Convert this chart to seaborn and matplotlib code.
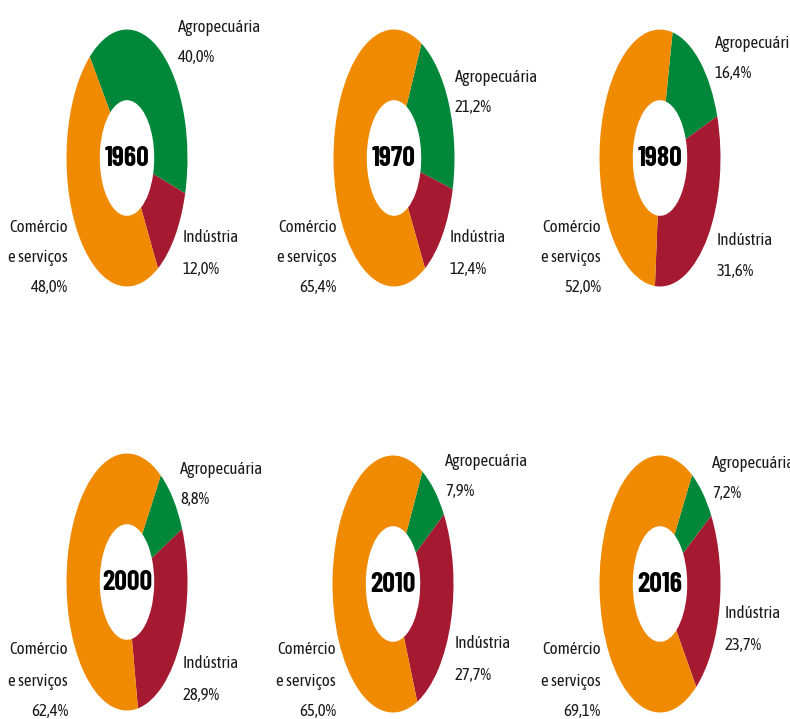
import matplotlib
matplotlib.use("Agg")
import matplotlib.pyplot as plt
import seaborn as sns

# Share of GDP by sector (%)
years = ["1960", "1970", "1980", "2000", "2010", "2016"]
agropecuaria = [40.0, 21.2, 16.4, 8.8, 7.9, 7.2]
industria = [12.0, 12.4, 31.6, 28.9, 27.7, 23.7]
comercio_servicos = [48.0, 65.4, 52.0, 62.4, 65.0, 69.1]
sector_names = ["Agropecuária", "Indústria", "Comércio", "e serviços"]
sector_colors = ["#00873A", "#A51931", "#F08A00"]

sns.set_style("white")
plt.rcParams["font.family"] = ["Asap Condensed", "DejaVu Sans"]

W, H = 790, 719
fig = plt.figure(figsize=(W / 100, H / 100), dpi=100)
fig.patch.set_facecolor("white")

# layout: donut centres (px), first-slice angle, label anchors (px offsets from centre)
centres = [(127, 158), (394, 158), (660, 158), (127, 582), (393, 584), (660, 584)]
start_angles = [128, 63, 78, 56, 61, 58]
agro_pos = [(51, -130), (61, -80), (55, -115), (53, -112), (52, -122), (52, -121)]
ind_pos = [(56, 80), (56, 80), (57, 82), (56, 81), (62, 59), (65, 29)]
com_pos = [(-59, 69), (-57, 69), (-59, 69), (-59, 68), (-57, 66), (-59, 66)]
DW, DH = 121, 257  # donut outer size in px
LS = 30            # line spacing px
FS = 12.2


def fmt(v):
    return f"{v:.1f}".replace(".", ",") + "%"


def ftxt(px, py, s, **kw):
    fig.text(px / W, 1 - py / H, s, fontsize=FS, color="#1a1a1a", va="center", **kw)


for i, year in enumerate(years):
    cx, cy = centres[i]
    ax = fig.add_axes([(cx - DW / 2) / W, 1 - (cy + DH / 2) / H, DW / W, DH / H])
    vals = [agropecuaria[i], industria[i], comercio_servicos[i]]
    ax.pie(vals, colors=sector_colors, startangle=start_angles[i], counterclock=False,
           radius=1.0, wedgeprops=dict(width=0.55, linewidth=0))
    ax.set_xlim(-1, 1)
    ax.set_ylim(-1, 1)
    ax.set_aspect("auto")
    ax.axis("off")
    ax.text(0, 0.0, year, ha="center", va="center", fontsize=20, fontweight="bold",
            color="black", family=["Barlow Condensed", "DejaVu Sans"])

    # Agropecuária
    x0, y0 = agro_pos[i]
    ftxt(cx + x0, cy + y0, sector_names[0], ha="left")
    ftxt(cx + x0, cy + y0 + LS, fmt(agropecuaria[i]), ha="left")
    # Indústria
    x0, y0 = ind_pos[i]
    ftxt(cx + x0, cy + y0, sector_names[1], ha="left")
    ftxt(cx + x0, cy + y0 + LS + 2, fmt(industria[i]), ha="left")
    # Comércio e serviços
    x0, y0 = com_pos[i]
    ftxt(cx + x0, cy + y0, sector_names[2], ha="right")
    ftxt(cx + x0, cy + y0 + LS + 1, sector_names[3], ha="right")
    ftxt(cx + x0, cy + y0 + 2 * LS + 1, fmt(comercio_servicos[i]), ha="right")

fig.savefig("out.png", dpi=100, facecolor="white")
